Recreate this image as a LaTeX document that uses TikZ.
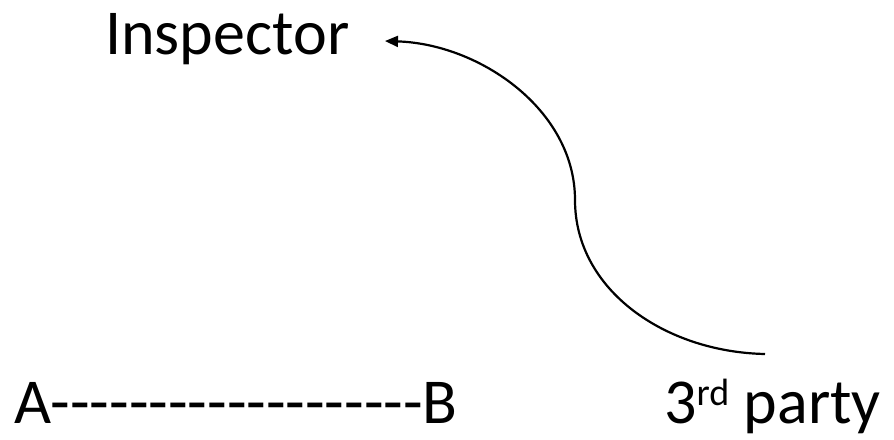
\documentclass[tikz,border=0pt]{standalone}
\usepackage{fontspec}
\setmainfont{Carlito}[Ligatures=TeXOff]
\usetikzlibrary{arrows.meta}
\begin{document}
\begin{tikzpicture}[x=1pt,y=-1pt,
  lbl/.style={anchor=base west,inner sep=0pt,font=\fontsize{64}{77}\selectfont},
  conn/.style={line width=2.2pt,-{Triangle[length=13pt,width=11pt]}}]
\useasboundingbox (0,0) rectangle (894,439);
\node[lbl] (ins) at (105,54) {Inspector};
\node[lbl] (ab) at (14,423) {A-------------------B};
\node[lbl] (third) at (664,423) {3\raisebox{18pt}{\fontsize{38}{40}\selectfont rd} party};
\coordinate (s) at (765,354);
\coordinate (m) at (575,200);
\coordinate (t) at (385,41);
\draw[conn] (s) .. controls (665,352) and (575,290) .. (m)
  .. controls (575,110) and (480,44) .. (t);
\end{tikzpicture}
\end{document}
